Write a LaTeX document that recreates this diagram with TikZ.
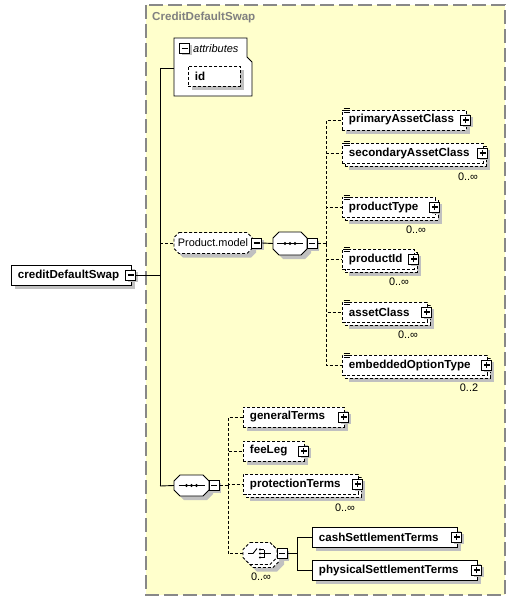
\documentclass[tikz,border=0pt]{standalone}
\usepackage{fontspec}
\setmainfont{Liberation Sans}
\usetikzlibrary{shadows}
\definecolor{groupfill}{HTML}{FFFFCC}
\definecolor{groupline}{HTML}{888888}
\definecolor{titlegray}{HTML}{808080}
\definecolor{shadowgray}{HTML}{C0C0C0}
\newcommand\elemfont{\fontsize{11.6}{13}\selectfont\bfseries}
\newcommand\regfont{\fontsize{10.9}{12}\selectfont}
\newcommand\attrfont{\fontsize{11}{12}\selectfont\itshape}
% octagon: centre x, centre y, width, height, chamfer, options
\newcommand\octagonat[6]{\path[#6] ({#1-#3/2+#5},{#2-#4/2}) -- ({#1+#3/2-#5},{#2-#4/2}) -- ({#1+#3/2},{#2-#4/2+#5}) -- ({#1+#3/2},{#2+#4/2-#5}) -- ({#1+#3/2-#5},{#2+#4/2}) -- ({#1-#3/2+#5},{#2+#4/2}) -- ({#1-#3/2},{#2+#4/2-#5}) -- ({#1-#3/2},{#2-#4/2+#5}) -- cycle;}
\tikzset{
  conn/.style={line width=0.9pt},
  optconn/.style={line width=0.9pt, dash pattern=on 3pt off 2pt},
  elembox/.style={draw, line width=0.9pt, fill=white, minimum height=20pt, inner xsep=6.5pt, inner ysep=0pt, anchor=west, align=left, font=\elemfont},
  optdash/.style={dash pattern=on 3pt off 2pt},
  shadowone/.style={general shadow={fill=shadowgray, shadow xshift=4pt, shadow yshift=-4pt}},
  shadowmulti/.style={general shadow={fill=shadowgray, shadow xshift=7pt, shadow yshift=-7pt}, general shadow={fill=white, draw=black, shadow xshift=3pt, shadow yshift=-3pt}},
  signbox/.style={draw, solid, line width=0.9pt, fill=white, minimum size=10pt, inner sep=0pt, general shadow={fill=shadowgray, shadow xshift=2pt, shadow yshift=-2pt}},
  signminus/.style={signbox, path picture={\draw[line width=1.1pt] ([xshift=-3pt]path picture bounding box.center) -- ([xshift=3pt]path picture bounding box.center);}},
  signplus/.style={signbox, path picture={\draw[line width=1.1pt] ([xshift=-3pt]path picture bounding box.center) -- ([xshift=3pt]path picture bounding box.center) ([yshift=-3pt]path picture bounding box.center) -- ([yshift=3pt]path picture bounding box.center);}},
  compnode/.style={rectangle, inner sep=0pt},
  octfill/.style={draw, line width=0.9pt, fill=white},
  octshadow/.style={fill=shadowgray},
  mult/.style={font=\regfont, inner sep=0pt},
}
\begin{document}
\begin{tikzpicture}[x=1pt,y=-1pt]
\useasboundingbox (0,0) rectangle (516,602);
\fill[white] (0,0) rectangle (516,602);
% group
\draw[groupline, line width=1.5pt, dash pattern=on 14pt off 5pt, fill=groupfill] (146,5) rectangle (505,595);
\node[anchor=west, text=titlegray, font=\elemfont, inner sep=0pt] (title) at (152,18) {CreditDefaultSwap};

% root element
\node[elembox, shadowone, text width=107pt] (root) at (11,275) {creditDefaultSwap};
\node[signminus] (rootm) at ([xshift=-1pt]root.east) {};

% attributes
\draw[line width=0.9pt, fill=white] (174,38) -- (247,38) -- (247,57) -- (252,62) -- (252,96) -- (174,96) -- cycle;
\coordinate (attrL) at (174,68);
\node[signminus] (attrm) at (184.5,48.5) {};
\node[font=\attrfont, anchor=west, inner sep=0pt] (attrt) at (193,48.5) {attributes};
\node[elembox, optdash, shadowone, text width=39pt] (id) at (188,76) {id};

% trunk
\coordinate (tTop) at (160,68);
\coordinate (tPM) at (160,243);
\coordinate (tMid) at (160,275);
\coordinate (tBot) at (160,486);
\draw[conn] (tTop) -- (tBot);
\draw[conn] (rootm.east) -- (tMid);
\draw[conn] (tTop) -- (attrL);

% Product.model
\octagonat{217}{247}{78}{21}{5}{octshadow}
\octagonat{213}{243}{78}{21}{5}{octfill, optdash}
\node[compnode, minimum width=78pt, minimum height=21pt, font=\regfont] (pm) at (213,243) {Product.model};
\node[signminus] (pmm) at ([xshift=4.5pt]pm.east) {};
\draw[optconn] (tPM) -- (pm.west);

% first sequence
\octagonat{294}{247.5}{34}{23}{6}{octshadow}
\octagonat{290}{243.5}{34}{23}{6}{octfill}
\node[compnode, minimum width=34pt, minimum height=23pt] (s1) at (290,243.5) {};
\node[signminus] (s1m) at ([xshift=5pt]s1.east) {};
\draw[conn] (pmm.east) -- (s1.west);

% children of first sequence
\node[elembox, optdash, shadowone, text width=111pt] (e1) at (342,120) {primaryAssetClass};
\node[elembox, optdash, shadowmulti, text width=128pt] (e2) at (342,153) {secondaryAssetClass};
\node[elembox, optdash, shadowmulti, text width=80pt] (e3) at (342,207) {productType};
\node[elembox, optdash, shadowmulti, text width=59pt] (e4) at (342,259) {productId};
\node[elembox, optdash, shadowmulti, text width=72pt] (e5) at (342,312) {assetClass};
\node[elembox, optdash, shadowmulti, text width=132pt] (e6) at (342,365) {embeddedOptionType};
\foreach \n in {e1,e2,e3,e4,e5,e6} {
  \node[signplus] (\n p) at ([xshift=-1pt]\n.east) {};
  \foreach \dy in {1.5,-0.5,-2.5}
    \draw[line width=0.6pt] ([shift={(1.5pt,\dy pt)}]\n.north west) -- ([shift={(7.5pt,\dy pt)}]\n.north west);
}
\node[mult] (m2) at (468,177) {0..∞};
\node[mult] (m3) at (416,230) {0..∞};
\node[mult] (m4) at (399,282) {0..∞};
\node[mult] (m5) at (408,335) {0..∞};
\node[mult] (m6) at (469,388) {0..2};

\coordinate (bus1) at (326,243.5);
\draw[optconn] (s1m.east) -- (bus1);
\foreach \n in {e1,e2,e3,e4,e5,e6}
  \draw[optconn] (bus1) |- (\n.west);

% second sequence
\octagonat{195.5}{489.5}{35}{21}{6}{octshadow}
\octagonat{191.5}{485.5}{35}{21}{6}{octfill}
\node[compnode, minimum width=35pt, minimum height=21pt] (s2) at (191.5,485.5) {};
\node[signminus] (s2m) at ([xshift=5pt]s2.east) {};
\draw[conn] (tBot) -- (s2.west);

\foreach \s in {s1,s2} {
  \draw[conn] ([xshift=-13pt]\s.center) -- ([xshift=13pt]\s.center);
  \foreach \dx in {-5,0,5} \fill ([xshift=\dx pt]\s.center) circle (1.6pt);
}

\node[elembox, optdash, shadowone, text width=88pt] (g1) at (243,417) {generalTerms};
\node[elembox, optdash, shadowone, text width=48pt] (g2) at (243,451) {feeLeg};
\node[elembox, optdash, shadowmulti, text width=102pt] (g3) at (243,484) {protectionTerms};
\foreach \n in {g1,g2,g3}
  \node[signplus] (\n p) at ([xshift=-1pt]\n.east) {};
\node[mult] (mg3) at (345,508) {0..∞};

% choice
\octagonat{267}{560.5}{34}{22}{7}{octshadow}
\octagonat{263}{556.5}{34}{22}{7}{octfill, optdash}
\octagonat{260}{553.5}{34}{22}{7}{octfill, optdash}
\node[compnode, minimum width=34pt, minimum height=22pt] (ch) at (260,553.5) {};
\node[signminus] (chm) at ([xshift=5pt]ch.east) {};
\node[mult] (mch) at (261,577) {0..∞};
\draw[conn] ([xshift=-12pt]ch.center) -- ([xshift=-7pt]ch.center) -- ([shift={(-3pt,5pt)}]ch.center);
\foreach \dy in {-4,0,4} {
  \fill ([shift={(0pt,\dy pt)}]ch.center) circle (1.2pt);
  \draw[line width=0.7pt] ([shift={(0pt,\dy pt)}]ch.center) -- ([shift={(4pt,\dy pt)}]ch.center);
}
\draw[conn] ([shift={(4pt,-4pt)}]ch.center) -- ([shift={(4pt,4pt)}]ch.center);
\draw[conn] ([shift={(4pt,0pt)}]ch.center) -- ([shift={(11pt,0pt)}]ch.center);

\coordinate (bus2) at (228,485.5);
\draw[optconn] (s2m.east) -- (bus2);
\foreach \n in {g1,g2,g3,ch}
  \draw[optconn] (bus2) |- (\n.west);

\node[elembox, shadowone, text width=132pt] (c1) at (312,537) {cashSettlementTerms};
\node[elembox, shadowone, text width=152pt] (c2) at (312,570) {physicalSettlementTerms};
\foreach \n in {c1,c2}
  \node[signplus] (\n p) at ([xshift=-1pt]\n.east) {};

\coordinate (bus3) at (297,553.5);
\draw[conn] (chm.east) -- (bus3);
\draw[conn] (bus3) |- (c1.west);
\draw[conn] (bus3) |- (c2.west);
\end{tikzpicture}
\end{document}
